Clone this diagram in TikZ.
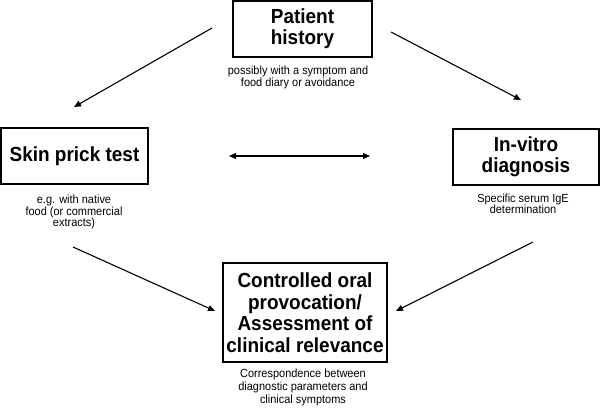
\documentclass[tikz,border=0pt]{standalone}
\usepackage{fontspec}
\setmainfont[FakeStretch=0.93]{Liberation Sans}
\usetikzlibrary{arrows.meta}
\begin{document}
\begin{tikzpicture}[x=1pt,y=-1pt,
  box/.style={draw,line width=1.3pt,inner sep=0pt,align=center,font=\bfseries\fontsize{20.4}{21}\selectfont},
  note/.style={inner sep=0pt,align=center,font=\fontsize{11.8}{12}\selectfont},
  arr/.style={line width=1.1pt,-{Triangle[length=7pt,width=6pt]}},
  darr/.style={line width=1.1pt,{Triangle[length=7pt,width=6pt]}-{Triangle[length=7pt,width=6pt]}}]
\useasboundingbox (0,0) rectangle (600,409);
\node[box,minimum width=139pt,minimum height=56pt] (ph) at (302.5,29) {Patient\\history};
\node[note] (phn) at (298,77) {possibly with a symptom and\\food diary or avoidance};
\node[box,minimum width=147pt,minimum height=56pt] (spt) at (74.5,156) {Skin prick test};
\node[note,font=\fontsize{11.8}{11.5}\selectfont] (sptn) at (74,212) {e.g. with native\\food (or commercial\\extracts)};
\node[box,minimum width=146pt,minimum height=56pt,font=\bfseries\fontsize{20.4}{20.5}\selectfont] (ivd) at (526,157) {In-vitro\\diagnosis};
\node[note,font=\fontsize{11.8}{11}\selectfont] (ivdn) at (523,204) {Specific serum IgE\\determination};
\node[box,minimum width=164pt,minimum height=99pt,font=\bfseries\fontsize{20.4}{21.5}\selectfont] (cop) at (305,312.5) {Controlled oral\\provocation/\\Assessment of\\clinical relevance};
\node[note,font=\fontsize{11.8}{13}\selectfont] (copn) at (303,387) {Correspondence between\\diagnostic parameters and\\clinical symptoms};
\coordinate (a1s) at (212,28);  \coordinate (a1e) at (74,107);
\coordinate (a2s) at (391,32);  \coordinate (a2e) at (521,100);
\coordinate (a3s) at (229,156); \coordinate (a3e) at (370,156);
\coordinate (a4s) at (73,247);  \coordinate (a4e) at (215,311);
\coordinate (a5s) at (533,242); \coordinate (a5e) at (396,311);
\draw[arr] (a1s) -- (a1e);
\draw[arr] (a2s) -- (a2e);
\draw[darr] (a3s) -- (a3e);
\draw[arr] (a4s) -- (a4e);
\draw[arr] (a5s) -- (a5e);
\end{tikzpicture}
\end{document}
